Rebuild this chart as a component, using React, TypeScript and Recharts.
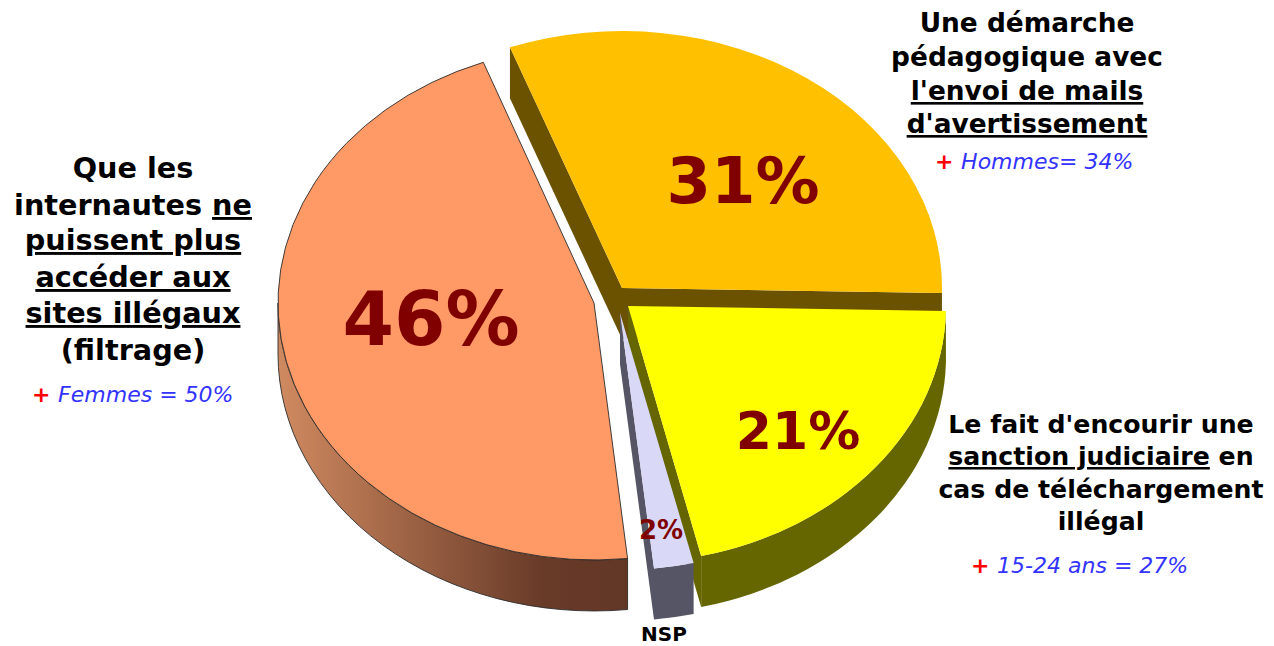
import React from "react";
import { PieChart, Pie } from "recharts";

// opinion shares, clockwise from the top of the pie
const answers = ["Démarche pédagogique", "Sanction judiciaire", "NSP", "Filtrage"];
const shares = [31, 21, 2, 46];
const shareLabels = ["31%", "21%", "2%", "46%"];

const tableData = answers.map((name, i) => ({ name, value: shares[i] }));

const TOP_COLORS = ["#FFC000", "#FFFF00", "#D9D9F7", "#FF9966"];
const WALL_COLORS = ["#6B5200", "#666600", "#555566", "url(#orangeWall)"];

const WIDTH = 1274;
const HEIGHT = 646;
const PIE_X = 610;
const PIE_Y = 300;
const PIE_RADIUS = 320;
const TILT = 0.803; // squash of the pie disc
const DEPTH = 51; // height of the extruded side

// explode offset and radius tweak per slice
const EXPLODE_X = [12, 18, 10, -16];
const EXPLODE_Y = [-12, 6, 13, 3];
const RADIUS_DELTA = [0, -2, 0, -4];

// where each percentage sits, relative to its slice centre
const LABEL_DX = [121, 170, 41, -163];
const LABEL_DY = [-85, 143, 226, 42];
const LABEL_SIZE = [64, 52, 26, 74];

const FONT = "'DejaVu Sans', Verdana, sans-serif";
const DARK_RED = "#800000";

type Run = [string, boolean?];

const leftTitle: Run[][] = [
  [["Que les"]],
  [["internautes "], ["ne", true]],
  [["puissent plus", true]],
  [["accéder aux", true]],
  [["sites illégaux", true]],
  [["(filtrage)"]],
];
const topTitle: Run[][] = [
  [["Une démarche"]],
  [["pédagogique avec"]],
  [["l'envoi de mails", true]],
  [["d'avertissement", true]],
];
const rightTitle: Run[][] = [
  [["Le fait d'encourir une"]],
  [["sanction judiciaire", true], [" en"]],
  [["cas de téléchargement"]],
  [["illégal"]],
];

const leftNote = "Femmes = 50%";
const topNote = "Hommes= 34%";
const rightNote = "15-24 ans = 27%";
const noAnswer = "NSP";

const rad = (deg: number) => (deg * Math.PI) / 180;

function SliceShape(props: any) {
  const { cx, cy, outerRadius, startAngle, endAngle, index } = props;
  const i = index ?? answers.indexOf(props.name);
  const x0 = cx + EXPLODE_X[i];
  const y0 = cy + EXPLODE_Y[i];
  const rx = outerRadius + RADIUS_DELTA[i];
  const ry = outerRadius * TILT;
  const at = (deg: number, drop = 0) =>
    `${x0 + rx * Math.cos(rad(deg))} ${y0 - ry * Math.sin(rad(deg)) + drop}`;
  const large = startAngle - endAngle > 180 ? 1 : 0;

  const top = `M${x0} ${y0} L${at(startAngle)} A${rx} ${ry} 0 ${large} 1 ${at(endAngle)} Z`;

  // side faces: only those turned towards the viewer are drawn
  const cutWall = (deg: number) =>
    `M${x0} ${y0} L${at(deg)} L${at(deg, DEPTH)} L${x0} ${y0 + DEPTH} Z`;
  const rimFrom = Math.min(startAngle, 0);
  const rimTo = Math.max(endAngle, -180);
  const rim =
    rimFrom > rimTo
      ? `M${at(rimFrom)} A${rx} ${ry} 0 0 1 ${at(rimTo)} L${at(rimTo, DEPTH)} A${rx} ${ry} 0 0 0 ${at(rimFrom, DEPTH)} Z`
      : null;

  const isOutlined = i === 3;
  const edge = isOutlined ? { stroke: "#2b2b2b", strokeWidth: 0.9 } : { stroke: "none" };

  return (
    <g>
      {Math.cos(rad(startAngle)) < 0 && <path d={cutWall(startAngle)} fill={WALL_COLORS[i]} />}
      {Math.cos(rad(endAngle)) > 0 && <path d={cutWall(endAngle)} fill={WALL_COLORS[i]} />}
      {rim && <path d={rim} fill={WALL_COLORS[i]} {...edge} />}
      <path d={top} fill={TOP_COLORS[i]} {...edge} />
      <text
        x={x0 + LABEL_DX[i]}
        y={y0 + LABEL_DY[i]}
        textAnchor="middle"
        fontFamily={FONT}
        fontWeight="bold"
        fontSize={LABEL_SIZE[i]}
        fill={DARK_RED}
      >
        {shareLabels[i]}
      </text>
    </g>
  );
}

function TitleBlock({ lines, x, baselines, size }: { lines: Run[][]; x: number; baselines: number[]; size: number }) {
  return (
    <>
      {lines.map((runs, i) => (
        <text
          key={i}
          x={x}
          y={baselines[i]}
          textAnchor="middle"
          fontFamily={FONT}
          fontWeight="bold"
          fontSize={size}
          fill="#000000"
        >
          {runs.map(([part, underlined], j) => (
            <tspan key={j} textDecoration={underlined ? "underline" : undefined} style={{ whiteSpace: "pre" }}>
              {part}
            </tspan>
          ))}
        </text>
      ))}
    </>
  );
}

function Note({ x, y, text }: { x: number; y: number; text: string }) {
  return (
    <text x={x} y={y} fontFamily={FONT} fontSize={22} style={{ whiteSpace: "pre" }}>
      <tspan fill="#FF0000" fontWeight="bold">+ </tspan>
      <tspan fill="#3333FF" fontStyle="italic">{text}</tspan>
    </text>
  );
}

export default function App() {
  return (
    <div style={{ position: "absolute", left: 0, top: 0, width: WIDTH, height: HEIGHT, background: "#fff" }}>
      <PieChart width={WIDTH} height={HEIGHT} margin={{ top: 0, right: 0, bottom: 0, left: 0 }}>
        <defs>
          <linearGradient id="orangeWall" x1="0" y1="0" x2="1" y2="0">
            <stop offset="0" stopColor="#D08A60" />
            <stop offset="0.76" stopColor="#683A28" />
            <stop offset="1" stopColor="#633726" />
          </linearGradient>
        </defs>
        <Pie
          data={tableData}
          dataKey="value"
          nameKey="name"
          cx={PIE_X}
          cy={PIE_Y}
          innerRadius={0}
          outerRadius={PIE_RADIUS}
          startAngle={110.5}
          endAngle={-249.5}
          stroke="none"
          isAnimationActive={false}
          shape={SliceShape}
        />
        <TitleBlock lines={leftTitle} x={133} baselines={[178, 215, 250, 287, 323, 360]} size={28.7} />
        <TitleBlock lines={topTitle} x={1027} baselines={[32, 66, 100, 133]} size={26.4} />
        <TitleBlock lines={rightTitle} x={1101} baselines={[433, 465, 498, 530]} size={25.2} />
        <Note x={32} y={402} text={leftNote} />
        <Note x={935} y={169} text={topNote} />
        <Note x={971} y={573} text={rightNote} />
        <text x={664} y={641} textAnchor="middle" fontFamily={FONT} fontWeight="bold" fontSize={20} fill="#000000">
          {noAnswer}
        </text>
      </PieChart>
    </div>
  );
}
